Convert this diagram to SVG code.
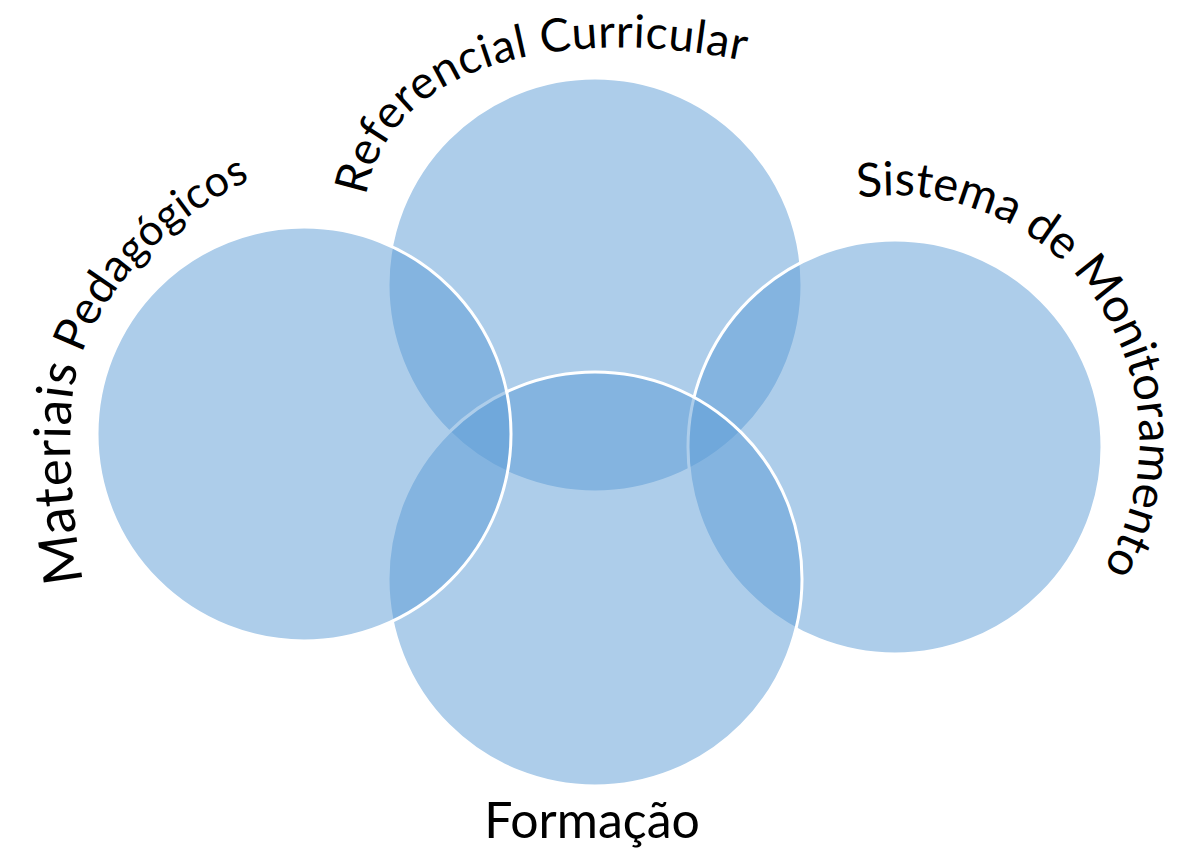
<svg xmlns="http://www.w3.org/2000/svg" width="1187" height="850" viewBox="0 0 1187 850">
  <style>
    .venn { fill: #5B9BD5; fill-opacity: 0.5; stroke: #FFFFFF; stroke-width: 3; }
    .lbl { font-family: Lato, "Open Sans", "Liberation Sans", sans-serif; font-size: 44px; fill: #000000; }
  </style>
  <defs>
    <path id="arcTop" d="M 366,196 C 390,58 573,26 740,60"/>
    <path id="arcLeft" d="M 83,582 C 70,500 65,420 77,370 C 92,310 150,228 246,182"/>
    <path id="arcRight" d="M 858,198 A 245 245 0 0 1 1101,572"/>
  </defs>
  <rect x="0" y="0" width="1187" height="850" fill="#FFFFFF"/>
  <g id="node-referencial">
    <circle class="venn" cx="595" cy="285" r="207"/>
  </g>
  <g id="node-sistema">
    <circle class="venn" cx="895" cy="447" r="207"/>
  </g>
  <g id="node-formacao">
    <circle class="venn" cx="595" cy="579" r="207"/>
  </g>
  <g id="node-materiais">
    <circle class="venn" cx="304" cy="434" r="207"/>
  </g>
  <g id="connectors"></g>
  <g id="labels">
    <text class="lbl" style="font-size:46px"><textPath href="#arcTop" textLength="446" lengthAdjust="spacing">Referencial Curricular</textPath></text>
    <text class="lbl"><textPath href="#arcLeft" textLength="478" lengthAdjust="spacing"><tspan style="font-size:54px">Mat</tspan><tspan style="font-size:51px">eriais</tspan><tspan style="font-size:46px"> Peda</tspan><tspan style="font-size:43px">gógicos</tspan></textPath></text>
    <text class="lbl"><textPath href="#arcRight" textLength="556" lengthAdjust="spacing"><tspan style="font-size:47px">Sistema de Monitoramento</tspan></textPath></text>
    <text class="lbl" x="592" y="838" text-anchor="middle" style="font-size:50px">Formação</text>
  </g>
</svg>
